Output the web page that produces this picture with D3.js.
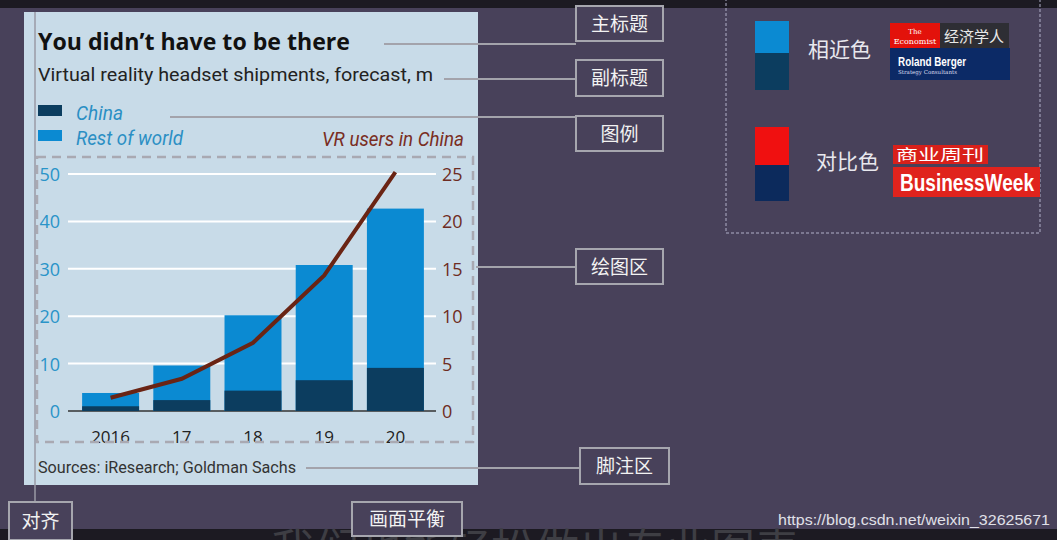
<!DOCTYPE html>
<html><head><meta charset="utf-8">
<script src="https://cdn.jsdelivr.net/npm/d3@7"></script>
<style>body{margin:0;background:#48415a;overflow:hidden}</style>
</head><body><div id="chart"></div>
<script>
// data
const years = ["2016", "17", "18", "19", "20"];
const china = [1.0, 2.3, 4.3, 6.5, 9.1];
const total = [3.8, 9.6, 20.2, 30.8, 42.7];
const vrUsers = [1.4, 3.4, 7.2, 14.3, 25.2];
const leftTicks = [0, 10, 20, 30, 40, 50];
const rightTicks = [0, 5, 10, 15, 20, 25];

const W = 1057, H = 540;
const svg = d3.select("#chart").append("svg").attr("width", W).attr("height", H);
const zh = "'Noto Sans CJK SC', sans-serif";
const cond = "'Roboto', 'Open Sans', sans-serif";

svg.append("rect").attr("width", W).attr("height", H).attr("fill", "#48415a");
svg.append("rect").attr("width", W).attr("height", 8).attr("fill", "#1c1a22");

// chart panel
svg.append("rect").attr("x", 24).attr("y", 12).attr("width", 454).attr("height", 473).attr("fill", "#c8dbe8");

svg.append("text").attr("x", 38).attr("y", 50).text("You didn’t have to be there")
  .attr("font-family", "'Open Sans', sans-serif").attr("font-weight", 700).attr("font-size", 23)
  .attr("fill", "#111").attr("textLength", 312).attr("lengthAdjust", "spacingAndGlyphs");
svg.append("text").attr("x", 38).attr("y", 81).text("Virtual reality headset shipments, forecast, m")
  .attr("font-family", cond).attr("font-size", 18).attr("fill", "#222")
  .attr("textLength", 395).attr("lengthAdjust", "spacingAndGlyphs");

// legend
const legend = [["China", "#0c3d5f", 114, 47], ["Rest of world", "#0b8ad2", 139, 107]];
legend.forEach(([t, c, y, len]) => {
  svg.append("rect").attr("x", 38).attr("y", y - 9).attr("width", 24).attr("height", 11).attr("fill", c);
  svg.append("text").attr("x", 76).attr("y", y + 6).text(t).attr("font-family", cond)
    .attr("font-style", "italic").attr("font-size", 20).attr("fill", "#2b8fc4")
    .attr("textLength", len).attr("lengthAdjust", "spacingAndGlyphs");
});
svg.append("text").attr("x", 464).attr("y", 146).attr("text-anchor", "end").text("VR users in China")
  .attr("font-family", cond).attr("font-style", "italic").attr("font-size", 20).attr("fill", "#7a2d22")
  .attr("textLength", 142).attr("lengthAdjust", "spacingAndGlyphs");

// scales
const x = d3.scaleBand().domain(years).range([75, 431]).paddingInner(0.2).paddingOuter(0.1);
const yL = d3.scaleLinear().domain([0, 50]).range([411, 174]);
const yR = d3.scaleLinear().domain([0, 25]).range([411, 174]);

// gridlines
svg.append("g").selectAll("line").data(leftTicks).join("line")
  .attr("x1", 68).attr("x2", 436).attr("y1", d => yL(d)).attr("y2", d => yL(d))
  .attr("stroke", d => d === 0 ? "#333" : "#fff").attr("stroke-width", d => d === 0 ? 1.5 : 2);

// bars
years.forEach((yr, i) => {
  svg.append("rect").attr("x", x(yr)).attr("width", x.bandwidth())
    .attr("y", yL(total[i])).attr("height", yL(0) - yL(total[i])).attr("fill", "#0b8ad2");
  svg.append("rect").attr("x", x(yr)).attr("width", x.bandwidth())
    .attr("y", yL(china[i])).attr("height", yL(0) - yL(china[i])).attr("fill", "#0c3d5f");
});

// line
const line = d3.line().x((d, i) => x(years[i]) + x.bandwidth() / 2).y(d => yR(d));
svg.append("path").datum(vrUsers).attr("d", line).attr("fill", "none")
  .attr("stroke", "#6a2414").attr("stroke-width", 4);

// axes
svg.append("g").selectAll("text").data(leftTicks).join("text")
  .attr("x", 60).attr("y", d => yL(d) + 7).attr("text-anchor", "end").text(d => d)
  .attr("font-family", "'Open Sans', sans-serif").attr("font-size", 18).attr("fill", "#2a94c8");
svg.append("g").selectAll("text").data(rightTicks).join("text")
  .attr("x", 442).attr("y", d => yR(d) + 7).text(d => d)
  .attr("font-family", "'Open Sans', sans-serif").attr("font-size", 18).attr("fill", "#6e2c22");
svg.append("g").selectAll("text").data(years).join("text")
  .attr("x", d => x(d) + x.bandwidth() / 2).attr("y", 443).attr("text-anchor", "middle").text(d => d)
  .attr("font-family", "'Open Sans', sans-serif").attr("font-size", 17).attr("fill", "#222");

// plot area dashed frame
svg.append("rect").attr("x", 37).attr("y", 157).attr("width", 436).attr("height", 285)
  .attr("fill", "none").attr("stroke", "#a9a9b2").attr("stroke-width", 2.5).attr("stroke-dasharray", "9,6");

svg.append("text").attr("x", 38).attr("y", 473).text("Sources: iResearch; Goldman Sachs")
  .attr("font-family", cond).attr("font-size", 16).attr("fill", "#333")
  .attr("textLength", 258).attr("lengthAdjust", "spacingAndGlyphs");

// alignment line
svg.append("line").attr("x1", 35).attr("x2", 35).attr("y1", 12).attr("y2", 503).attr("stroke", "#9a9aa6").attr("stroke-width", 1.5);

// caption bar (behind annotation boxes)
svg.append("text").attr("x", 1050).attr("y", 525).attr("text-anchor", "end").text("https://blog.csdn.net/weixin_32625671")
  .attr("font-family", "'Liberation Sans', sans-serif").attr("font-size", 14).attr("fill", "#e0e0e8")
  .attr("textLength", 272).attr("lengthAdjust", "spacingAndGlyphs");
svg.append("rect").attr("x", 0).attr("y", 529).attr("width", W).attr("height", 11).attr("fill", "#1c1a22");
svg.append("text").attr("x", 535).attr("y", 566).attr("text-anchor", "middle").text("我们也能轻松做出专业图表")
  .attr("font-family", zh).attr("font-size", 44).attr("fill", "#3e3e44");

// annotations
const notes = [
  ["主标题", 576, 6, 87, 35, [384, 44, 576, 44]],
  ["副标题", 576, 60, 87, 36, [444, 79, 576, 79]],
  ["图例", 576, 116, 87, 35, [170, 117, 576, 117]],
  ["绘图区", 576, 249, 87, 35, [476, 267, 576, 267]],
  ["脚注区", 580, 448, 89, 36, [306, 468, 580, 468]],
  ["对齐", 9, 502, 63, 38, null],
  ["画面平衡", 352, 502, 110, 34, null]
];
notes.forEach(([t, bx, by, bw, bh, l]) => {
  if (l) svg.append("line").attr("x1", l[0]).attr("y1", l[1]).attr("x2", l[2]).attr("y2", l[3])
    .attr("stroke", "#a3a3ab").attr("stroke-width", 2);
  svg.append("rect").attr("x", bx).attr("y", by).attr("width", bw).attr("height", bh)
    .attr("fill", "#48415a").attr("stroke", "#a6a6ae").attr("stroke-width", 2);
  svg.append("text").attr("x", bx + bw / 2).attr("y", by + bh / 2 + 7).attr("text-anchor", "middle")
    .text(t).attr("font-family", zh).attr("font-size", 19).attr("fill", "#f2f2f2");
});

// right panel
svg.append("rect").attr("x", 726).attr("y", -2).attr("width", 314).attr("height", 235)
  .attr("fill", "none").attr("stroke", "#b0b0c8").attr("stroke-dasharray", "3,2");
const swatches = [[21, 32, "#0b8ad2"], [53, 37, "#0c3d5f"], [127, 38, "#f01010"], [165, 36, "#0c2a5c"]];
swatches.forEach(([y, h, c]) => svg.append("rect").attr("x", 755).attr("y", y).attr("width", 34).attr("height", h).attr("fill", c));
svg.append("text").attr("x", 808).attr("y", 57).text("相近色").attr("font-family", zh).attr("font-size", 21).attr("fill", "#e8e8ee");
svg.append("text").attr("x", 816).attr("y", 169).text("对比色").attr("font-family", zh).attr("font-size", 21).attr("fill", "#e8e8ee");

// logos
svg.append("rect").attr("x", 890).attr("y", 23).attr("width", 50).attr("height", 25).attr("fill", "#e3120b");
svg.append("text").attr("x", 915).attr("y", 34).attr("text-anchor", "middle").text("The").attr("font-family", "'DejaVu Serif', serif").attr("font-size", 7).attr("fill", "#fff");
svg.append("text").attr("x", 915).attr("y", 44).attr("text-anchor", "middle").text("Economist").attr("font-family", "'DejaVu Serif', serif").attr("font-size", 8).attr("fill", "#fff");
svg.append("rect").attr("x", 940).attr("y", 23).attr("width", 69).attr("height", 25).attr("fill", "#2e2e34");
svg.append("text").attr("x", 974).attr("y", 42).attr("text-anchor", "middle").text("经济学人").attr("font-family", zh).attr("font-size", 15).attr("fill", "#e8e8e8");
svg.append("rect").attr("x", 890).attr("y", 48).attr("width", 120).attr("height", 32).attr("fill", "#0c2a66");
svg.append("text").attr("x", 898).attr("y", 66).text("Roland Berger").attr("font-family", "'Liberation Sans', sans-serif").attr("font-weight", 700).attr("font-size", 13).attr("fill", "#fff")
  .attr("textLength", 68).attr("lengthAdjust", "spacingAndGlyphs");
svg.append("text").attr("x", 898).attr("y", 74).text("Strategy Consultants").attr("font-family", "'DejaVu Serif', serif").attr("font-size", 5.5).attr("fill", "#dde");
svg.append("rect").attr("x", 893).attr("y", 145).attr("width", 95).attr("height", 19).attr("fill", "#d9201a");
svg.append("text").attr("x", 940).attr("y", 160).attr("text-anchor", "middle").text("商业周刊").attr("font-family", zh).attr("font-size", 15).attr("fill", "#fff")
  .attr("textLength", 88).attr("lengthAdjust", "spacingAndGlyphs");
svg.append("rect").attr("x", 893).attr("y", 167).attr("width", 147).attr("height", 30).attr("fill", "#e0231d");
svg.append("text").attr("x", 900).attr("y", 191).text("BusinessWeek")
  .attr("font-family", "'Liberation Sans', sans-serif").attr("font-weight", 700).attr("font-size", 24).attr("fill", "#fff")
  .attr("textLength", 134).attr("lengthAdjust", "spacingAndGlyphs");
</script></body></html>
